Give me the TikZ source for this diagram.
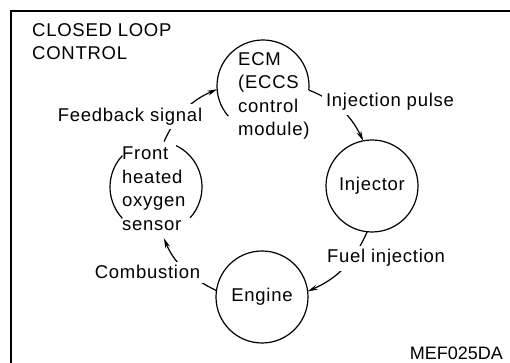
\documentclass[tikz,border=0pt]{standalone}
\usepackage{fontspec}
\setmainfont{Liberation Sans}[LetterSpace=4]
\newfontfamily\codefont{Liberation Sans}
\usepackage{tikz}
\usetikzlibrary{arrows.meta}
\tikzset{
    ring/.style = {circle, draw=black, line width=1.2pt, minimum size=92pt, inner sep=0pt, outer sep=0pt},
    openring/.style = {circle, minimum size=92pt, inner sep=0pt, outer sep=0pt},
    ringtxt/.style = {align=left, inner sep=0pt, anchor=north west},
    lbl/.style = {fill=white, inner sep=4pt, anchor=base},
    rim/.style = {line width=1.2pt},
    flow/.style = {line width=1.2pt, -{Stealth[length=10pt,width=5pt]}, bend left=21},
    boxline/.style = {line width=1.5pt},
}
\begin{document}
\begin{tikzpicture}[
	x=1pt, y=1pt,
	font=\fontsize{18.5pt}{23.5pt}\selectfont
]
\useasboundingbox (0,0) rectangle (510,363);
\draw[boxline] (510,352) -| (11,0);
\node[ringtxt] at (32,340) (title) {CLOSED LOOP\\CONTROL};
\node[openring] at (263,277) (ecm) {};
\node[ring] at (372,177) (inj) {Injector};
\node[ring] at (262,66) (eng) {Engine};
\node[openring] at (156,176) (oxs) {};
\node[ringtxt] at (238,311) (ecmt) {ECM\\(ECCS\\control\\module)};
\node[ringtxt] at (122,216) (oxst) {Front\\heated\\oxygen\\sensor};
% broken rings
\draw[rim] (ecm.-5) arc[start angle=-5, end angle=221, radius=46pt];
\draw[rim] (oxs.64) arc[start angle=64, end angle=-42, radius=46pt];
\draw[rim] (oxs.137) arc[start angle=137, end angle=223, radius=46pt];
% loop
\draw[flow] (ecm.-5) to (inj.101);
\draw[flow] (inj.-96) to (eng.7);
\draw[flow, shorten >=6pt] (eng.172) to (oxs.-83);
\draw[flow] (oxs.80) to (ecm.184);
\node[lbl] at (390,256) (pulse) {Injection pulse};
\node[lbl] at (386,100) (fuel) {Fuel injection};
\node[lbl] at (147.5,84) (comb) {Combustion};
\node[lbl] at (130,241.5) (feed) {Feedback signal};
\node[anchor=base east, inner sep=0pt] at (503,3) (code) {\codefont\fontsize{18pt}{20pt}\selectfont MEF025DA};
\end{tikzpicture}
\end{document}
